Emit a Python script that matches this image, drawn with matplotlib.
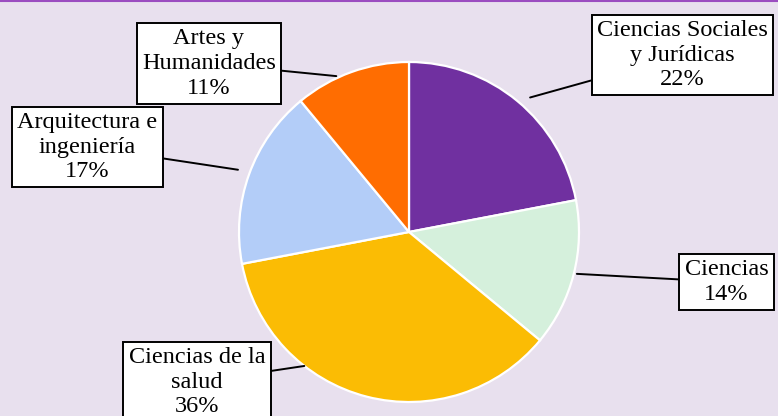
import matplotlib
matplotlib.use("Agg")
import matplotlib.pyplot as plt
import numpy as np

categories = ["Ciencias Sociales\ny Jurídicas", "Ciencias", "Ciencias de la\nsalud",
              "Arquitectura e\ningeniería", "Artes y\nHumanidades"]
values = [22, 14, 36, 17, 11]
colors = ["#7030A0", "#D5F0DC", "#FBBC04", "#B3CDF8", "#FF6D01"]

W, H = 778, 416
fig = plt.figure(figsize=(W / 100, H / 100), dpi=100)
bg = "#E8E0EE"
fig.patch.set_facecolor(bg)
ax = fig.add_axes([0, 0, 1, 1])
ax.set_facecolor(bg)

cx, cy, R = 409, 184, 170
wedges, _ = ax.pie(values, colors=colors, startangle=90, counterclock=False,
                   center=(cx, cy), radius=R, frame=True,
                   wedgeprops=dict(edgecolor="white", linewidth=1.6))
ax.set_xlim(0, W)
ax.set_ylim(0, H)
ax.set_aspect("equal")
ax.axis("off")

# label layout: box centers and leader-line attach angles (degrees clockwise from top)
label_pos = [(682.5, 361), (726.5, 134), (197, 34), (87.5, 269), (209, 352.5)]
attach_angle = [42, 104, 218, 290, 335]
attach_r = [181, 173, 170, 182, 172]

for cat, v, (tx, ty), a, r in zip(categories, values, label_pos, attach_angle, attach_r):
    th = np.deg2rad(a)
    px = cx + r * np.sin(th)
    py = cy + r * np.cos(th)
    ax.annotate(f"{cat}\n{v}%", xy=(px, py), xytext=(tx, ty),
                ha="center", va="center", fontsize=17.5, family="Liberation Serif",
                linespacing=1.22, annotation_clip=False,
                bbox=dict(boxstyle="square,pad=0.22", fc="white", ec="black", lw=1.4),
                arrowprops=dict(arrowstyle="-", color="black", lw=1.4,
                                shrinkA=0, shrinkB=0))

fig.add_artist(plt.Line2D([0, 1], [0.998, 0.998], transform=fig.transFigure,
                          color="#9B4DC0", lw=1.5))

fig.savefig("out.png", dpi=100, facecolor=bg)
